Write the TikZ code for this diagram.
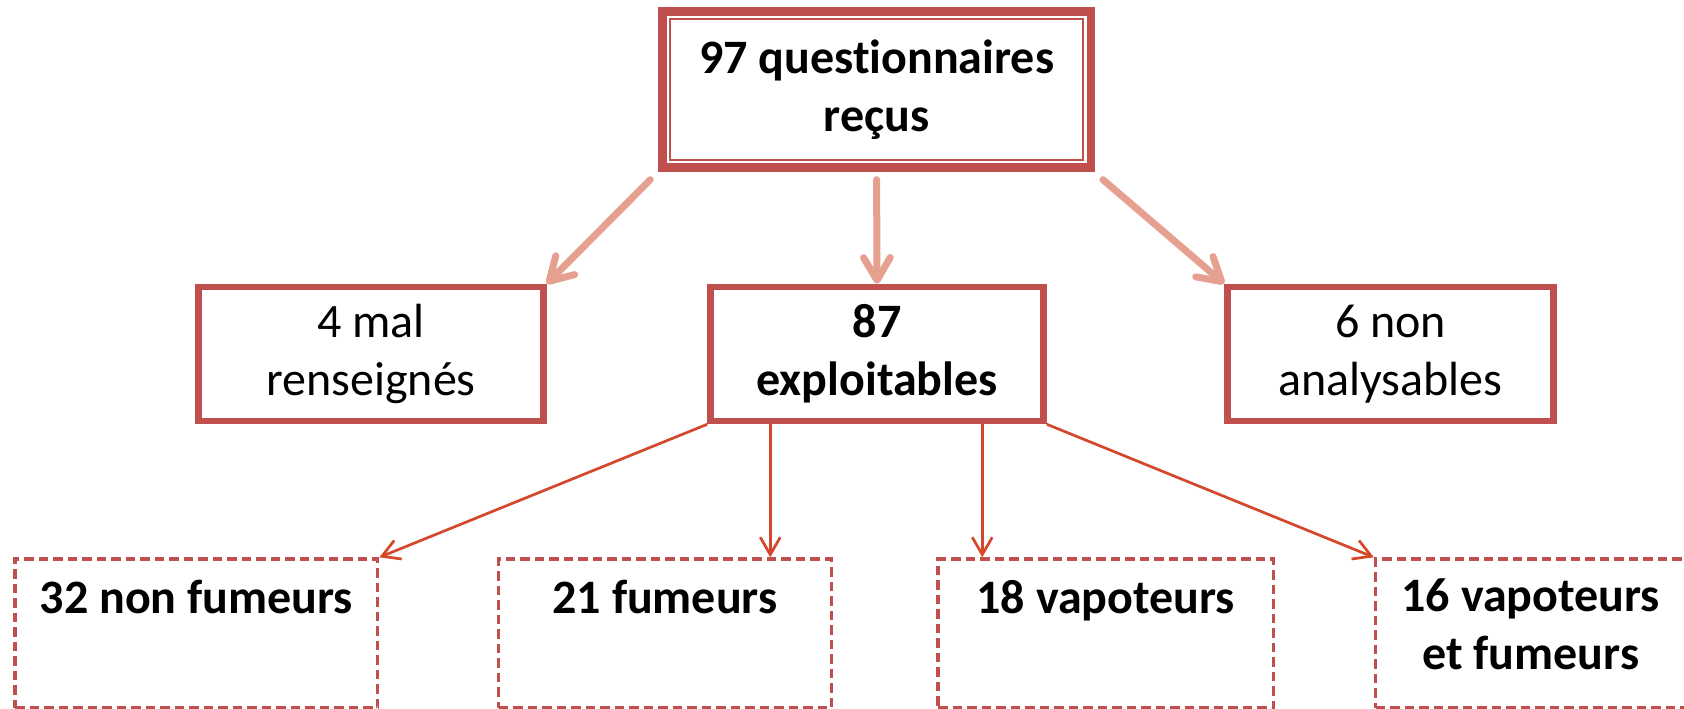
\documentclass[tikz,border=0pt]{standalone}
\usepackage{fontspec}
\setmainfont{Carlito}[Ligatures=NoCommon]
\usetikzlibrary{arrows.meta,calc}
\newdimen\pxu \pxu=0.75pt
\definecolor{boxred}{HTML}{C0504D}
\definecolor{salmon}{HTML}{E6A090}
\definecolor{arrred}{HTML}{D5472B}
\begin{document}
\begin{tikzpicture}[x=0.75pt,y=-0.75pt,
  txt/.style={font=\fontsize{36}{43.5}\selectfont, align=center, inner sep=0pt},
  btxt/.style={font=\fontsize{36}{43.5}\selectfont\bfseries, align=center, inner sep=0pt},
  topbox/.style={draw=boxred, line width=8.4\pxu, inner sep=0pt},
  midbox/.style={draw=boxred, line width=6.5\pxu, inner sep=0pt},
  dbox/.style={draw=boxred, line width=3.4\pxu, dash pattern=on 9.5\pxu off 5\pxu, inner sep=0pt},
  toparr/.style={draw=salmon, line width=7\pxu, line cap=round,
    -{Straight Barb[length=17pt,width=20pt,line cap=round,line join=round]}},
  botarr/.style={draw=arrred, line width=2.7\pxu,
    -{Straight Barb[length=13pt,width=15pt]}},
]
\useasboundingbox (0,0) rectangle (1684,709);
\begin{scope}
\clip (0,0) rectangle (1684,709);
% top box
\node[topbox, minimum width=428.3\pxu, minimum height=156\pxu, btxt] (top) at (876.6,89.5)
  {97 questionnaires\\reçus};
\draw[boxred, line width=1.7\pxu] ($(top.north west)+(12,12)$) rectangle ($(top.south east)+(-12,-12)$);
% middle boxes
\node[midbox, minimum width=345\pxu, minimum height=134\pxu, txt] (mL) at (371,354) {4 mal\\renseignés};
\node[midbox, minimum width=333\pxu, minimum height=134\pxu, btxt] (mC) at (877,354) {87\\exploitables};
\node[midbox, minimum width=326\pxu, minimum height=134\pxu, txt] (mR) at (1390.5,354) {6 non\\analysables};
% bottom boxes
\node[dbox, minimum width=362.7\pxu, minimum height=149\pxu] (b1) at (196.35,633.5) {};
\node[dbox, minimum width=332.6\pxu, minimum height=149\pxu] (b2) at (665,633.5) {};
\node[dbox, minimum width=335.5\pxu, minimum height=149\pxu] (b3) at (1105.8,633.5) {};
\node[dbox, minimum width=310.5\pxu, minimum height=149\pxu] (b4) at (1530.8,633.5) {};
\node[btxt, anchor=base] (t1) at (196.35,613) {32 non fumeurs};
\node[btxt, anchor=base] (t2) at (665,613) {21 fumeurs};
\node[btxt, anchor=base] (t3) at (1105.8,613) {18 vapoteurs};
\node[btxt, anchor=base] (t4) at (1530.8,669) {16 vapoteurs\\et fumeurs};
% top arrows
\draw[toparr] ($(top.south west)+(-8,8)$) -- (mL.north east);
\draw[toparr] ($(top.south)+(0,8)$) -- (mC.north);
\draw[toparr] ($(top.south east)+(8,8)$) -- (mR.north west);
% bottom arrows
\coordinate (s2) at ($(mC.south west)+(63,-1)$);
\coordinate (s3) at ($(mC.south east)+(-64.5,-1)$);
\draw[botarr] (mC.south west) -- (b1.north east);
\draw[botarr] (s2) -- (s2 |- b2.north);
\draw[botarr] (s3) -- (s3 |- b3.north);
\draw[botarr] (mC.south east) -- (b4.north west);
\end{scope}
\end{tikzpicture}
\end{document}
